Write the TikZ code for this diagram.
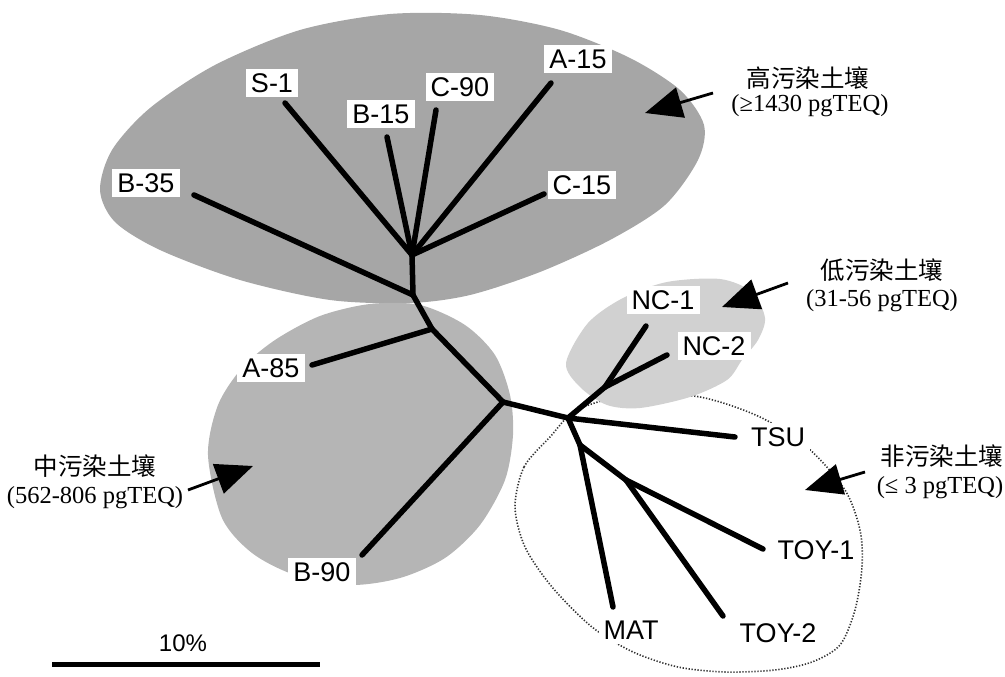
\documentclass[tikz,border=0pt]{standalone}
\usepackage{fontspec}
\setmainfont{Liberation Serif}
\newfontfamily\labfont{Liberation Sans}
\newfontfamily\cjk{Noto Sans CJK SC}
\usetikzlibrary{arrows.meta}
\definecolor{hiG}{gray}{0.65}
\definecolor{midG}{gray}{0.71}
\definecolor{lowG}{gray}{0.82}
\begin{document}
\begin{tikzpicture}[x=1pt,y=-1pt,
  branch/.style={line width=5.5pt, line cap=round},
  leaf/.style={font=\labfont\fontsize{27}{27}\selectfont, fill=white, inner xsep=5pt, inner ysep=4pt, text height=19.5pt, text depth=0pt},
  cat/.style={font=\cjk\fontsize{24.5}{24.5}\selectfont},
  rng/.style={font=\fontsize{24.5}{24.5}\selectfont},
  pointer/.style={line width=2.8pt, -{Triangle[length=37pt,width=31pt]}},
  dotblob/.style={draw=black!80, line width=1.6pt, dash pattern=on 1.3pt off 1.7pt},
]
\useasboundingbox (0,0) rectangle (1005,677);

% groups
\fill[hiG] plot[smooth cycle] coordinates {(100,190) (112,150) (150,108) (215,65) (300,30) (390,14) (480,15) (560,30) (630,58) (680,90) (704,125) (698,160) (665,205) (610,240) (540,272) (470,295) (410,303) (330,300) (240,280) (160,250) (115,222)};
\fill[midG] plot[smooth cycle] coordinates {(208,455) (218,405) (242,368) (275,340) (320,316) (370,304) (420,305) (465,325) (495,355) (510,395) (513,435) (505,480) (480,525) (445,558) (400,578) (350,585) (295,575) (252,553) (222,518)};
\draw[dotblob] plot[smooth cycle] coordinates {(515,507) (524,467) (550,437) (577,410) (633,394) (700,397) (760,417) (808,448) (845,490) (860,530) (862,567) (855,610) (840,645) (812,662) (775,670) (725,672) (678,667) (633,652) (592,627) (552,587) (525,547)};
\fill[lowG] plot[smooth cycle] coordinates {(566,363) (588,323) (623,298) (667,282) (720,279) (752,292) (765,318) (758,340) (742,360) (727,380) (690,397) (640,408) (607,405) (580,387)};

% tree coordinates
\coordinate (h1) at (412,255);
\coordinate (j2) at (413,295);
\coordinate (j3) at (432,329);
\coordinate (j4) at (503,402);
\coordinate (j5) at (568,418);
\coordinate (jn) at (605,387);
\coordinate (jd) at (580,445);
\coordinate (jt) at (626,480);
\coordinate (eS1) at (285,103);
\coordinate (eB15) at (387,137);
\coordinate (eC90) at (436,110);
\coordinate (eA15) at (551,83);
\coordinate (eC15) at (544,194);
\coordinate (eB35) at (194,195);
\coordinate (eA85) at (312,365);
\coordinate (eB90) at (362,555);
\coordinate (eNC1) at (646,326);
\coordinate (eNC2) at (667,355);
\coordinate (eTSU) at (735,437);
\coordinate (eMAT) at (613,607);
\coordinate (eTOY1) at (763,549);
\coordinate (eTOY2) at (723,616);

\draw[branch] (h1) -- (eS1);
\draw[branch] (h1) -- (eB15);
\draw[branch] (h1) -- (eC90);
\draw[branch] (h1) -- (eA15);
\draw[branch] (h1) -- (eC15);
\draw[branch] (h1) -- (j2);
\draw[branch] (j2) -- (eB35);
\draw[branch] (j2) -- (j3);
\draw[branch] (j3) -- (eA85);
\draw[branch] (j3) -- (j4);
\draw[branch] (j4) -- (eB90);
\draw[branch] (j4) -- (j5);
\draw[branch] (j5) -- (jn);
\draw[branch] (jn) -- (eNC1);
\draw[branch] (jn) -- (eNC2);
\draw[branch] (j5) -- (eTSU);
\draw[branch] (j5) -- (jd);
\draw[branch] (jd) -- (eMAT);
\draw[branch] (jd) -- (jt);
\draw[branch] (jt) -- (eTOY1);
\draw[branch] (jt) -- (eTOY2);

% leaf labels
\node[leaf] (S1) at (272,83) {S-1};
\node[leaf] (B15) at (381,114) {B-15};
\node[leaf] (C90) at (460,87) {C-90};
\node[leaf] (A15) at (578,59) {A-15};
\node[leaf] (C15) at (582,185) {C-15};
\node[leaf] (B35) at (146,183) {B-35};
\node[leaf] (A85) at (271,368) {A-85};
\node[leaf] (B90) at (322,572) {B-90};
\node[leaf] (NC1) at (663,300) {NC-1};
\node[leaf] (NC2) at (714,346) {NC-2};
\node[leaf] (TSU) at (778,437) {TSU};
\node[leaf] (TOY1) at (816,550) {TOY-1};
\node[leaf] (TOY2) at (778,633) {TOY-2};
\node[leaf] (MAT) at (631,630) {MAT};

% scale bar
\coordinate (sb1) at (52,664);
\coordinate (sb2) at (320,664);
\draw[line width=5pt] (sb1) -- (sb2);
\node[font=\labfont\fontsize{24}{24}\selectfont] (pct) at (183,643) {10\%};

% category texts
\node[cat] (hiT) at (808,78) {高污染土壤};
\node[rng] (hiR) at (810,106) {(≥1430 pgTEQ)};
\node[cat] (loT) at (882,270) {低污染土壤};
\node[rng] (loR) at (882,301) {(31-56 pgTEQ)};
\node[cat] (noT) at (942,456) {非污染土壤};
\node[rng] (noR) at (940,488) {(≤ 3 pgTEQ)};
\node[cat] (mdT) at (95,466) {中污染土壤};
\node[rng] (mdR) at (95,498) {(562-806 pgTEQ)};

% pointers
\coordinate (pHt) at (713,93);  \coordinate (pHh) at (645,113);
\coordinate (pLt) at (788,283); \coordinate (pLh) at (722,307);
\coordinate (pNt) at (865,472); \coordinate (pNh) at (805,490);
\coordinate (pMt) at (188,490); \coordinate (pMh) at (253,466);
\draw[pointer] (pHt) -- (pHh);
\draw[pointer] (pLt) -- (pLh);
\draw[pointer] (pNt) -- (pNh);
\draw[pointer] (pMt) -- (pMh);
\end{tikzpicture}
\end{document}
